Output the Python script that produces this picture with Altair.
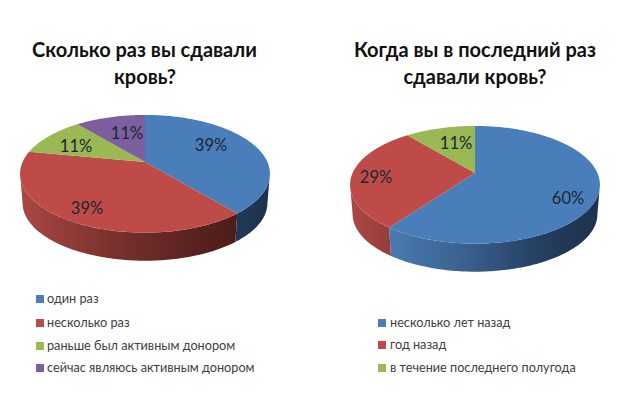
import math
import altair as alt
import pandas as pd

FONT = "Lato"

titles_a = ["Сколько раз вы сдавали", "кровь?"]
titles_b = ["Когда вы в последний раз", "сдавали кровь?"]
cats_a = ["один раз", "несколько раз", "раньше был активным донором", "сейчас являюсь активным донором"]
vals_a = [39, 39, 11, 11]
cats_b = ["несколько лет назад", "год назад", "в течение последнего полугода"]
vals_b = [60, 29, 11]
colors = ["#4a7ebb", "#be4b48", "#98b954", "#7d5fa0"]
# wall shade across the pie's width: 0 = left edge, 1 = right edge
wall_ramp = {
    "#4a7ebb": [(0.0, (90, 140, 198)), (0.18, (72, 120, 174)), (0.45, (58, 98, 145)), (0.8, (34, 58, 90)), (1.0, (29, 50, 78))],
    "#be4b48": [(0.0, (172, 72, 68)), (0.18, (146, 60, 56)), (0.45, (112, 45, 42)), (0.8, (80, 30, 28)), (1.0, (72, 27, 25))],
}

K, A, B = 0.2, 56.5, 122.4
S, D = 0.98, 29.5
TH_R, TH_L = 101.5, 258.5


def rim(theta, cx, ay, scale=1.0, dy=0.0):
    t = math.radians(theta)
    w = 1 + K * math.cos(t)
    return (cx + scale * B * math.sin(t) / w, ay - scale * A * math.cos(t) / w + dy)


def arc(a, b, step=1.0):
    n = max(2, int(abs(b - a) / step) + 1)
    return [a + (b - a) * i / (n - 1) for i in range(n)]


def polygon(points):
    return pd.DataFrame([{"x": p[0], "y": p[1], "i": i} for i, p in enumerate(points + points[:1])])


def shade(ramp, f):
    f = min(1.0, max(0.0, f))
    for (f0, c0), (f1, c1) in zip(ramp, ramp[1:]):
        if f <= f1:
            u = (f - f0) / (f1 - f0)
            return "#%02x%02x%02x" % tuple(round(a + (b - a) * u) for a, b in zip(c0, c1))
    return "#%02x%02x%02x" % ramp[-1][1]


def wall_fill(color, pts, cx):
    x0, x1 = min(p[0] for p in pts), max(p[0] for p in pts)
    left, width = cx - 125, 250
    n = 6
    return alt.Gradient(
        gradient="linear", x1=0, x2=1, y1=0, y2=0,
        stops=[alt.GradientStop(color=shade(wall_ramp[color], (x0 + (x1 - x0) * i / n - left) / width), offset=i / n)
               for i in range(n + 1)],
    )


xs = alt.Scale(domain=[8, 626], nice=False, zero=False)
ys = alt.Scale(domain=[405, 8], nice=False, zero=False)


def shape(points, fill):
    return alt.Chart(polygon(points)).mark_line(fill=fill, stroke=None, strokeWidth=0, interpolate="linear").encode(
        x=alt.X("x:Q", scale=xs, axis=None),
        y=alt.Y("y:Q", scale=ys, axis=None),
        order=alt.Order("i:Q"),
    )


def text_at(items, **kw):
    df = pd.DataFrame(items, columns=["x", "y", "t"])
    return alt.Chart(df).mark_text(font=FONT, baseline="middle", **kw).encode(
        x=alt.X("x:Q", scale=xs, axis=None),
        y=alt.Y("y:Q", scale=ys, axis=None),
        text="t:N",
    )


def pie(values, cx, ay):
    layers = []
    total = sum(values)
    start = 0.0
    spans = []
    for i, v in enumerate(values):
        end = start + 360.0 * v / total
        spans.append((start, end, colors[i]))
        start = end
    for a, b, c in spans:
        lo, hi = max(a, TH_R), min(b, TH_L)
        if lo < hi and c in wall_ramp:
            top = [rim(t, cx, ay) for t in arc(lo, hi)]
            bottom = [rim(t, cx, ay, S, D) for t in arc(hi, lo)]
            pts = top + bottom
            layers.append(shape(pts, wall_fill(c, pts, cx)))
    for a, b, c in spans:
        pts = [(cx, ay)] + [rim(t, cx, ay) for t in arc(a, b)]
        layers.append(shape(pts, c))
    return layers


layers = pie(vals_a, 145, 162) + pie(vals_b, 475, 173)

layers.append(text_at([(144.5, 51, titles_a[0]), (145, 78, titles_a[1]),
                       (475, 51, titles_b[0]), (475, 78, titles_b[1])],
                      fontSize=20, fontWeight="bold", color="#111111", align="center"))

labels = [(211, 146, vals_a[0]), (87, 209, vals_a[1]), (76, 147, vals_a[2]), (127, 134, vals_a[3]),
          (568, 199, vals_b[0]), (376, 178, vals_b[1]), (456, 144, vals_b[2])]
layers.append(text_at([(x, y, f"{v}%") for x, y, v in labels],
                      fontSize=16.5, color="#1c2530", align="center"))

leg_a_y = [299, 323, 346, 368]
leg_b_y = [323, 345, 368]
sq = pd.DataFrame(
    [{"x": 40, "y": y, "c": colors[i]} for i, y in enumerate(leg_a_y)]
    + [{"x": 382, "y": y, "c": colors[i]} for i, y in enumerate(leg_b_y)]
)
layers.append(alt.Chart(sq).mark_square(size=64, opacity=1).encode(
    x=alt.X("x:Q", scale=xs, axis=None),
    y=alt.Y("y:Q", scale=ys, axis=None),
    color=alt.Color("c:N", scale=None),
))
layers.append(text_at(
    [(47, y, cats_a[i]) for i, y in enumerate(leg_a_y)] + [(390, y, cats_b[i]) for i, y in enumerate(leg_b_y)],
    fontSize=12.7, color="#404040", align="left"))

chart = alt.layer(*layers).properties(width=618, height=397, padding=0, background="white").configure_view(stroke=None)
chart.save("out.html", embed_options={"renderer": "svg", "actions": False})
